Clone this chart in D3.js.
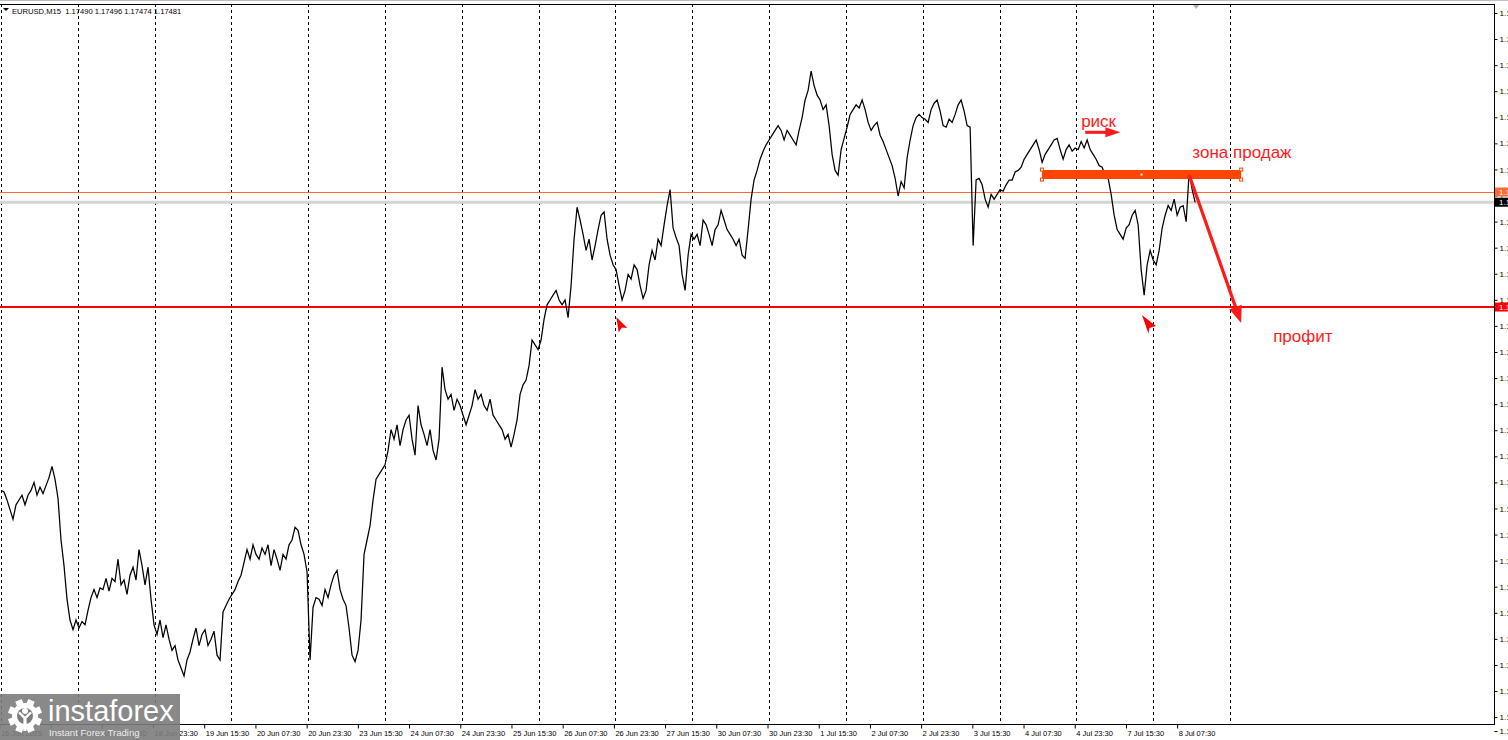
<!DOCTYPE html>
<html><head><meta charset="utf-8">
<script src="https://cdn.jsdelivr.net/npm/d3@7"></script>
<style>
html,body{margin:0;padding:0;background:#fff;overflow:hidden}
svg{display:block}
</style></head><body>
<script>
// ---------------- DATA ----------------
const chartTitle = "EURUSD,M15  1.17490 1.17496 1.17474 1.17481";
const sampleStepBars = 3.75; // closes every 3.75 M15 bars (bar 0 = 17 Jun 00:00)
const closes = [
 1.1568,1.1567,1.1562,1.1556,1.1550,1.1559,1.1562,1.1565,1.1559,1.1565,
 1.1568,1.1573,1.1565,1.1570,1.1566,1.1571,1.1576,1.1583,1.1575,1.1563,
 1.1537,1.1521,1.1500,1.1487,1.1481,1.1487,1.1482,1.1486,1.1484,1.1493,
 1.1501,1.1506,1.1501,1.1507,1.1506,1.1513,1.1505,1.1513,1.1511,1.1525,
 1.1509,1.1512,1.1503,1.1515,1.1520,1.1512,1.1531,1.1521,1.1509,1.1520,
 1.1500,1.1484,1.1478,1.1487,1.1476,1.1484,1.1475,1.1468,1.1471,1.1462,
 1.1457,1.1452,1.1462,1.1467,1.1475,1.1482,1.1471,1.1478,1.1481,1.1471,
 1.1475,1.1480,1.1465,1.1462,1.1492,1.1496,1.1500,1.1503,1.1506,1.1511,
 1.1515,1.1523,1.1531,1.1525,1.1534,1.1528,1.1525,1.1532,1.1528,1.1534,
 1.1521,1.1531,1.1525,1.1518,1.1528,1.1525,1.1534,1.1537,1.1545,1.1543,
 1.1534,1.1528,1.1517,1.1462,1.1495,1.1501,1.1500,1.1496,1.1506,1.1501,
 1.1509,1.1515,1.1518,1.1506,1.1500,1.1496,1.1482,1.1465,1.1461,1.1468,
 1.1487,1.1528,1.1537,1.1546,1.1562,1.1575,1.1578,1.1581,1.1584,1.1593,
 1.1606,1.1600,1.1609,1.1596,1.1606,1.1612,1.1615,1.1600,1.1590,1.1621,
 1.1609,1.1603,1.1596,1.1606,1.1593,1.1587,1.1600,1.1645,1.1631,1.1625,
 1.1628,1.1618,1.1625,1.1621,1.1615,1.1609,1.1615,1.1621,1.1631,1.1625,
 1.1628,1.1621,1.1618,1.1625,1.1615,1.1612,1.1609,1.1606,1.1600,1.1603,
 1.1595,1.1603,1.1612,1.1628,1.1634,1.1637,1.1646,1.1662,1.1659,1.1656,
 1.1662,1.1675,1.1684,1.1687,1.1690,1.1693,1.1687,1.1684,1.1687,1.1676,
 1.1696,1.1725,1.1745,1.1737,1.1728,1.1718,1.1725,1.1712,1.1721,1.1731,
 1.1740,1.1742,1.1725,1.1715,1.1709,1.1706,1.1696,1.1687,1.1693,1.1703,
 1.1700,1.1709,1.1706,1.1696,1.1688,1.1693,1.1709,1.1718,1.1712,1.1725,
 1.1721,1.1734,1.1746,1.1756,1.1732,1.1726,1.1721,1.1703,1.1693,1.1715,
 1.1728,1.1725,1.1728,1.1721,1.1737,1.1734,1.1728,1.1721,1.1731,1.1734,
 1.1743,1.1737,1.1731,1.1728,1.1725,1.1721,1.1725,1.1715,1.1713,1.1731,
 1.1750,1.1762,1.1768,1.1775,1.1780,1.1784,1.1787,1.1790,1.1793,1.1796,
 1.1793,1.1787,1.1793,1.1790,1.1787,1.1784,1.1793,1.1801,1.1812,1.1818,
 1.1830,1.1821,1.1815,1.1812,1.1806,1.1809,1.1796,1.1778,1.1768,1.1765,
 1.1781,1.1788,1.1795,1.1803,1.1806,1.1809,1.1807,1.1812,1.1806,1.1798,
 1.1793,1.1796,1.1798,1.1790,1.1786,1.1781,1.1776,1.1771,1.1763,1.1752,
 1.1761,1.1757,1.1776,1.1787,1.1796,1.1801,1.1803,1.1801,1.1800,1.1798,
 1.1806,1.1810,1.1812,1.1805,1.1796,1.1795,1.1800,1.1798,1.1803,1.1809,
 1.1812,1.1805,1.1796,1.1795,1.1721,1.1762,1.1763,1.1759,1.1750,1.1745,
 1.1753,1.1750,1.1753,1.1756,1.1755,1.1759,1.1762,1.1762,1.1767,1.1768,
 1.1770,1.1775,1.1778,1.1781,1.1784,1.1787,1.1781,1.1773,1.1778,1.1781,
 1.1784,1.1787,1.1788,1.1781,1.1775,1.1781,1.1784,1.1780,1.1782,1.1781,
 1.1786,1.1782,1.1787,1.1781,1.1778,1.1775,1.1771,1.1770,1.1765,1.1763,
 1.1753,1.1740,1.1731,1.1728,1.1725,1.1732,1.1734,1.1740,1.1743,1.1734,
 1.1706,1.1690,1.1709,1.1718,1.1712,1.1709,1.1718,1.1732,1.1740,1.1746,
 1.1743,1.1750,1.1740,1.1745,1.1746,1.1736,1.1767,1.1756,1.1748
];
const barsPerDay = 96;
const tradingDays = ["17 Jun","18 Jun","19 Jun","20 Jun","23 Jun","24 Jun","25 Jun","26 Jun","27 Jun","30 Jun","1 Jul","2 Jul","3 Jul","4 Jul","7 Jul","8 Jul","9 Jul"];
const timeLabels = ["16 Jun 2025","17 Jun 15:30","18 Jun 07:30","18 Jun 23:30","19 Jun 15:30","20 Jun 07:30","20 Jun 23:30","23 Jun 15:30","24 Jun 07:30","24 Jun 23:30","25 Jun 15:30","26 Jun 07:30","26 Jun 23:30","27 Jun 15:30","30 Jun 07:30","30 Jun 23:30","1 Jul 15:30","2 Jul 07:30","2 Jul 23:30","3 Jul 15:30","4 Jul 07:30","4 Jul 23:30","7 Jul 15:30","8 Jul 07:30"];
const timeLabelBars = [-2,62,126,190,254,318,382,446,510,574,638,702,766,830,894,958,1022,1086,1150,1214,1278,1342,1406,1470];
const priceTicks = [1.18664,1.18501,1.18338,1.18175,1.18012,1.17849,1.17686,1.17523,1.17360,1.17197,1.17034,1.16871,1.16708,1.16545,1.16382,1.16219,1.16056,1.15893,1.15730,1.15567,1.15404,1.15241,1.15078,1.14915,1.14752,1.14589,1.14426,1.14263,1.14176];
const lastPrice = 1.17481;
const orangeLevel = 1.17545;
const redLevel = 1.16826;
const sellZone = {bar0:1301, bar1:1550, price:1.17654};
const riskArrow = {bar0:1355, bar1:1399, price:1.17918};
const profitArrow = {bar0:1485, price0:1.17651, bar1:1550, price1:1.16726};
const labelTexts = ["риск","зона продаж","профит"];
const labelBars = [1350,1489,1590];
const labelPrices = [1.17951,1.17757,1.16608];
const markerBars = [769,1426];
const markerPrices = [1.16764,1.16776];

// ---------------- CHART ----------------
const W=1508,H=740;
const P={left:0,top:4,right:1494,bottom:724};
const FONT="'Liberation Sans', Arial, sans-serif";
const svg=d3.select("body").append("svg").attr("width",W).attr("height",H);

const x=d3.scaleLinear().domain([0,1866]).range([1,1494]);
const y=d3.scaleLinear().domain([1.1422625,1.18745]).range([723,0]);

svg.append("defs").append("clipPath").attr("id","plot")
  .append("rect").attr("x",P.left).attr("y",P.top).attr("width",P.right-P.left).attr("height",P.bottom-P.top);

// top window line
svg.append("line").attr("x1",0).attr("x2",W).attr("y1",0.5).attr("y2",0.5).attr("stroke","#bdbdbd");

const plot=svg.append("g").attr("clip-path","url(#plot)");

// day separators
plot.selectAll("line.sep").data(tradingDays).join("line").attr("class","sep")
  .attr("x1",(d,i)=>Math.round(x(i*barsPerDay))+0.5).attr("x2",(d,i)=>Math.round(x(i*barsPerDay))+0.5)
  .attr("y1",P.top).attr("y2",P.bottom)
  .attr("stroke","#000").attr("stroke-width",1).attr("stroke-dasharray","3,3");

// bid line
plot.append("line").attr("x1",0).attr("x2",P.right).attr("y1",y(lastPrice)).attr("y2",y(lastPrice))
  .attr("stroke","#d4d4d4").attr("stroke-width",3);
// orange level
plot.append("line").attr("x1",0).attr("x2",P.right).attr("y1",Math.round(y(orangeLevel))+0.5).attr("y2",Math.round(y(orangeLevel))+0.5)
  .attr("stroke","#ff6a33").attr("stroke-width",1);
// red level
plot.append("line").attr("x1",0).attr("x2",P.right).attr("y1",Math.round(y(redLevel))).attr("y2",Math.round(y(redLevel)))
  .attr("stroke","#ff0000").attr("stroke-width",2);

// price line
const line=d3.line().x((d,i)=>x(i*sampleStepBars)).y(d=>y(d));
plot.append("path").datum(closes).attr("d",line)
  .attr("fill","none").attr("stroke","#000").attr("stroke-width",1.25).attr("stroke-linejoin","miter");

// sell zone
const szY=y(sellZone.price);
plot.append("line").attr("x1",x(sellZone.bar0)).attr("x2",x(sellZone.bar1)).attr("y1",szY).attr("y2",szY)
  .attr("stroke","#ff4500").attr("stroke-width",9);
[sellZone.bar0,sellZone.bar1].forEach(b=>{
  [-5,5].forEach(o=>{
    plot.append("rect").attr("x",x(b)-1.5).attr("y",szY+o-1.5).attr("width",3).attr("height",3)
      .attr("fill","#fff").attr("stroke","#ff4500").attr("stroke-width",1);
  });
});
plot.append("rect").attr("x",x((sellZone.bar0+sellZone.bar1)/2)-1).attr("y",szY-1).attr("width",2).attr("height",2).attr("fill","#fff");

// arrow helper
function arrow(x0,y0,x1,y1,w,headLen,headHalf,color){
  const dx=x1-x0,dy=y1-y0,L=Math.hypot(dx,dy),ux=dx/L,uy=dy/L,nx=-uy,ny=ux;
  const bx=x1-ux*headLen,by=y1-uy*headLen;
  plot.append("line").attr("x1",x0).attr("y1",y0).attr("x2",bx+ux*2).attr("y2",by+uy*2)
    .attr("stroke",color).attr("stroke-width",w);
  plot.append("path").attr("d",`M${x1},${y1}L${bx+nx*headHalf},${by+ny*headHalf}L${bx-nx*headHalf},${by-ny*headHalf}Z`)
    .attr("fill",color);
}
arrow(x(riskArrow.bar0),y(riskArrow.price),x(riskArrow.bar1),y(riskArrow.price),3,15,5,"#ff1a1a");
arrow(x(profitArrow.bar0),y(profitArrow.price0),x(profitArrow.bar1),y(profitArrow.price1),3.2,17,6.5,"#ff1a1a");

// small red markers
const markerShapes=[[[0,0],[11,11],[5.5,10.5],[2.5,15.5]],[[0,0],[14,11],[7.5,13],[6.5,18.5]]];
markerBars.forEach((b,i)=>{
  const mx=x(b),my=y(markerPrices[i]);
  plot.append("path").attr("d","M"+markerShapes[i].map(p=>(mx+p[0])+","+(my+p[1])).join("L")+"Z").attr("fill","#ff0000");
});

// annotation texts
plot.selectAll("text.ann").data(labelTexts).join("text").attr("class","ann")
  .attr("x",(d,i)=>x(labelBars[i])).attr("y",(d,i)=>y(labelPrices[i]))
  .attr("font-family",FONT).attr("font-size",17).attr("fill","#ff1a1a").text(d=>d);

// frame
svg.append("line").attr("x1",0).attr("x2",P.right+0.5).attr("y1",P.top+0.5).attr("y2",P.top+0.5).attr("stroke","#000");
svg.append("line").attr("x1",0).attr("x2",P.right+0.5).attr("y1",P.bottom+0.5).attr("y2",P.bottom+0.5).attr("stroke","#000");
svg.append("line").attr("x1",P.right+0.5).attr("x2",P.right+0.5).attr("y1",P.top).attr("y2",P.bottom+1).attr("stroke","#000");

// right axis
const yAxis=d3.axisRight(y).tickValues(priceTicks).tickSize(3).tickFormat(d3.format(".5f"));
const ya=svg.append("g").attr("transform",`translate(${P.right+0.5},0)`).call(yAxis);
ya.select(".domain").remove();
ya.selectAll("text").attr("x",5).attr("font-family",FONT).attr("font-size",8).attr("fill","#000");

// right price tags
[[redLevel,"#ff0000","#fff"],[orangeLevel,"#ff6a33","#fff"],[lastPrice,"#000","#fff"]].forEach(t=>{
  const ty=y(t[0]);
  svg.append("rect").attr("x",P.right+1).attr("y",ty-4.5).attr("width",40).attr("height",9).attr("fill",t[1]);
  svg.append("text").attr("x",P.right+5).attr("y",ty+3).attr("font-family",FONT).attr("font-size",8)
    .attr("fill",t[2]).text(d3.format(".5f")(t[0]));
});

// bottom axis
const xAxis=d3.axisBottom(x).tickValues(timeLabelBars).tickSize(4).tickFormat((d,i)=>timeLabels[i]);
const xa=svg.append("g").attr("transform",`translate(0,${P.bottom+0.5})`).call(xAxis);
xa.select(".domain").remove();
xa.selectAll("text").attr("text-anchor","start").attr("x",1).attr("y",6).attr("dy","0.71em")
  .attr("font-family",FONT).attr("font-size",7.5).attr("fill","#000");

// title
svg.append("path").attr("d","M3,8L9,8L6,11Z").attr("fill","#000");
svg.append("text").attr("x",12).attr("y",14).attr("font-family",FONT).attr("font-size",7.6)
  .attr("fill","#000").attr("xml:space","preserve").style("white-space","pre").text(chartTitle);

// chart shift marker
svg.append("path").attr("d",`M${x(1490)},5L${x(1490)+6},5L${x(1490)+3},9Z`).attr("fill","#b0b0b0");

// logo
const logo=svg.append("g");
logo.append("rect").attr("x",0).attr("y",694).attr("width",180).attr("height",46).attr("fill","#7c7c7c").attr("opacity",0.9);
const gear=logo.append("g").attr("transform","translate(25,716)");
d3.range(8).forEach(k=>{
  gear.append("rect").attr("x",-3.5).attr("y",-17).attr("width",7).attr("height",8).attr("fill","#fff").attr("transform",`rotate(${k*45+22.5})`);
});
gear.append("circle").attr("r",13).attr("fill","#fff");
gear.append("circle").attr("r",8).attr("fill","#7c7c7c");
gear.append("circle").attr("cx",0).attr("cy",-5).attr("r",3).attr("fill","#fff");
gear.append("path").attr("d","M-7,-3L-1.6,2.5L-1.6,15L1.6,15L1.6,2.5L7,-3L5,-4.2L0,0.5L-5,-4.2Z").attr("fill","#fff");
logo.append("text").attr("x",48).attr("y",721).attr("font-family",FONT).attr("font-size",29).attr("fill","#fff").text("instaforex");
logo.append("text").attr("x",49).attr("y",736).attr("font-family",FONT).attr("font-size",9.6).attr("fill","#eeeeee").text("Instant Forex Trading");
</script>
</body></html>
